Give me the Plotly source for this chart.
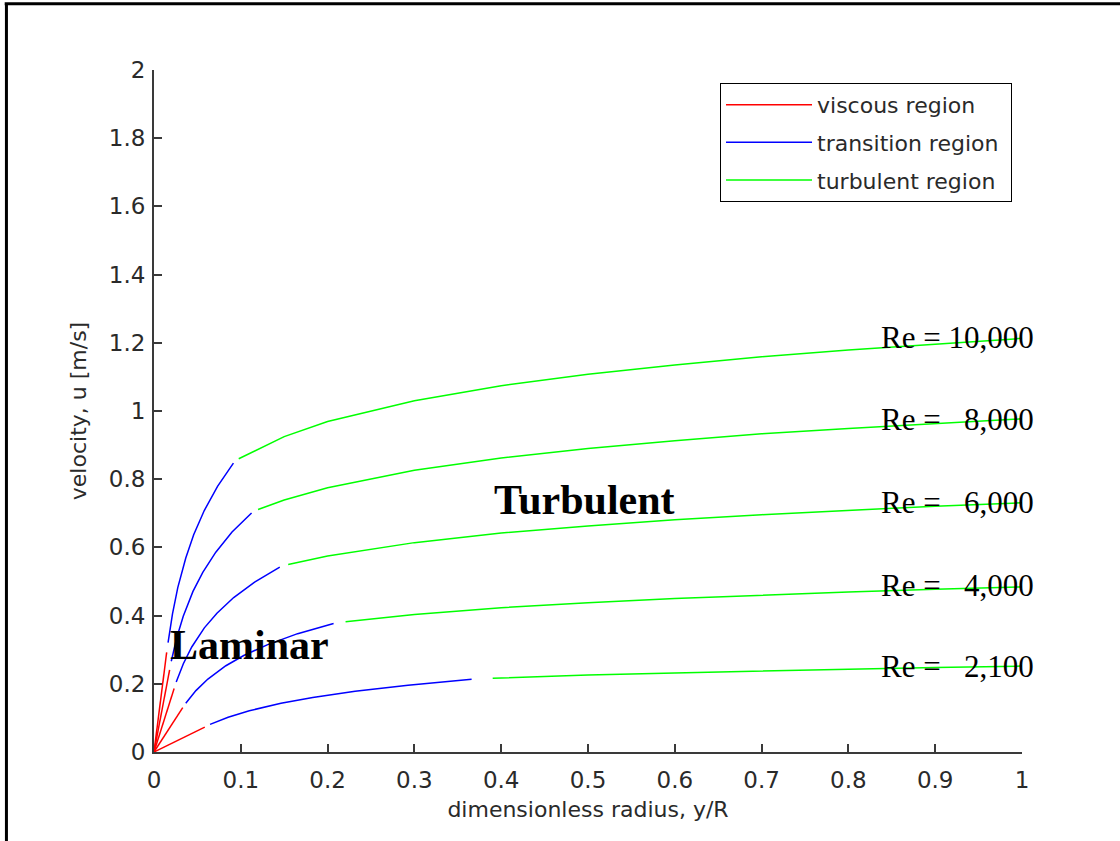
import plotly.graph_objects as go

# ---- data (x = y/R, u in m/s) ----
re_labels = ["Re = 10,000", "Re =\u00a0\u00a0\u00a08,000", "Re =\u00a0\u00a0\u00a06,000",
             "Re =\u00a0\u00a0\u00a04,000", "Re =\u00a0\u00a0\u00a02,100"]
label_y = [1.217, 0.975, 0.731, 0.487, 0.252]

# viscous region (red)
visc_x = [[0, 0.0146], [0, 0.0180], [0, 0.0232], [0, 0.0331], [0, 0.0585]]
visc_u = [[0, 0.292], [0, 0.241], [0, 0.186], [0, 0.130], [0, 0.073]]

# transition region (blue)
trans_x = [
    [0.0162, 0.0213, 0.0274, 0.0366, 0.0457, 0.0579, 0.0732, 0.0915],
    [0.0199, 0.0262, 0.0337, 0.0449, 0.0562, 0.0712, 0.0899, 0.1124],
    [0.0256, 0.0338, 0.0435, 0.0580, 0.0725, 0.0918, 0.1159, 0.1449],
    [0.0366, 0.0483, 0.0621, 0.0828, 0.1034, 0.1310, 0.1655, 0.2069],
    [0.0646, 0.0854, 0.1098, 0.1463, 0.1829, 0.2317, 0.2927, 0.3659],
]
trans_u = [
    [0.321, 0.405, 0.482, 0.569, 0.637, 0.708, 0.779, 0.847],
    [0.266, 0.335, 0.398, 0.471, 0.527, 0.586, 0.645, 0.701],
    [0.205, 0.259, 0.308, 0.364, 0.407, 0.453, 0.498, 0.542],
    [0.143, 0.180, 0.214, 0.253, 0.283, 0.315, 0.347, 0.377],
    [0.081, 0.102, 0.121, 0.143, 0.160, 0.178, 0.196, 0.213],
]

# turbulent region (green)
turb_x = [
    [0.0976, 0.15, 0.2, 0.3, 0.4, 0.5, 0.6, 0.7, 0.8, 0.9, 1.0],
    [0.1199, 0.15, 0.2, 0.3, 0.4, 0.5, 0.6, 0.7, 0.8, 0.9, 1.0],
    [0.1546, 0.2, 0.3, 0.4, 0.5, 0.6, 0.7, 0.8, 0.9, 1.0],
    [0.2207, 0.3, 0.4, 0.5, 0.6, 0.7, 0.8, 0.9, 1.0],
    [0.3902, 0.5, 0.6, 0.7, 0.8, 0.9, 1.0],
]
turb_u = [
    [0.860, 0.925, 0.969, 1.030, 1.074, 1.108, 1.135, 1.159, 1.179, 1.197, 1.213],
    [0.711, 0.739, 0.775, 0.826, 0.862, 0.890, 0.913, 0.933, 0.949, 0.964, 0.977],
    [0.550, 0.575, 0.614, 0.642, 0.663, 0.681, 0.696, 0.709, 0.721, 0.731],
    [0.382, 0.403, 0.423, 0.438, 0.450, 0.460, 0.469, 0.477, 0.484],
    [0.216, 0.226, 0.232, 0.238, 0.243, 0.248, 0.252],
]

x_ticks = [0, 0.1, 0.2, 0.3, 0.4, 0.5, 0.6, 0.7, 0.8, 0.9, 1]
y_ticks = [0, 0.2, 0.4, 0.6, 0.8, 1, 1.2, 1.4, 1.6, 1.8, 2]

SANS = "DejaVu Sans, Arial, sans-serif"
SERIF = "Liberation Serif, Times New Roman, serif"
TXT = "#2a2a2a"

fig = go.Figure()

groups = [
    ("viscous region", "#ff0000", visc_x, visc_u),
    ("transition region", "#0000ff", trans_x, trans_u),
    ("turbulent region", "#00ff00", turb_x, turb_u),
]
for name, color, xs, us in groups:
    for i, (xv, uv) in enumerate(zip(xs, us)):
        fig.add_trace(go.Scatter(
            x=xv, y=uv, mode="lines", name=name + "\u00a0",
            line=dict(color=color, width=1.5),
            legendgroup=name, showlegend=(i == 0),
        ))

for txt, yv in zip(re_labels, label_y):
    fig.add_annotation(x=0.835, y=yv, xref="x", yref="y", text=txt,
                       showarrow=False, xanchor="left", yanchor="middle",
                       font=dict(family=SERIF, size=31, color="black"))

fig.add_annotation(x=0.389, y=0.739, xref="x", yref="y", text="<b>Turbulent</b>",
                   showarrow=False, xanchor="left", yanchor="middle",
                   font=dict(family=SERIF, size=42, color="black"))
fig.add_annotation(x=0.016, y=0.314, xref="x", yref="y", text="<b>Laminar</b>",
                   showarrow=False, xanchor="left", yanchor="middle",
                   font=dict(family=SERIF, size=42, color="black"))

# outer frame (left and top edges of the picture border)
fig.add_shape(type="line", xref="paper", yref="paper",
              x0=-0.170, x1=-0.170, y0=-0.3, y1=1.097,
              line=dict(color="black", width=3))
fig.add_shape(type="line", xref="paper", yref="paper",
              x0=-0.172, x1=1.3, y0=1.097, y1=1.097,
              line=dict(color="black", width=3))

axis_common = dict(
    showgrid=False, zeroline=False, showline=True, linecolor="#3a3a3a",
    linewidth=2, ticks="inside", ticklen=8, tickwidth=2, tickcolor="#3a3a3a",
    tickfont=dict(family=SANS, size=23, color=TXT),
    mirror=False,
)

fig.update_layout(
    width=1120, height=841,
    margin=dict(l=154, r=98, t=70, b=89),
    paper_bgcolor="white", plot_bgcolor="white",
    xaxis=dict(range=[0, 1], tickvals=x_ticks, ticklabelstandoff=6,
               title=dict(text="dimensionless radius, y/R",
                          font=dict(family=SANS, size=22, color=TXT), standoff=10),
               **axis_common),
    yaxis=dict(range=[0, 2], tickvals=y_ticks, ticklabelstandoff=2,
               title=dict(text="velocity, u [m/s]",
                          font=dict(family=SANS, size=22, color=TXT), standoff=16),
               **axis_common),
    legend=dict(x=0.9885, y=0.981, xanchor="right", yanchor="top",
                bgcolor="white", bordercolor="black", borderwidth=1,
                font=dict(family=SANS, size=22, color=TXT),
                itemwidth=86, tracegroupgap=6),
    showlegend=True,
)

fig.write_html("out.html")
